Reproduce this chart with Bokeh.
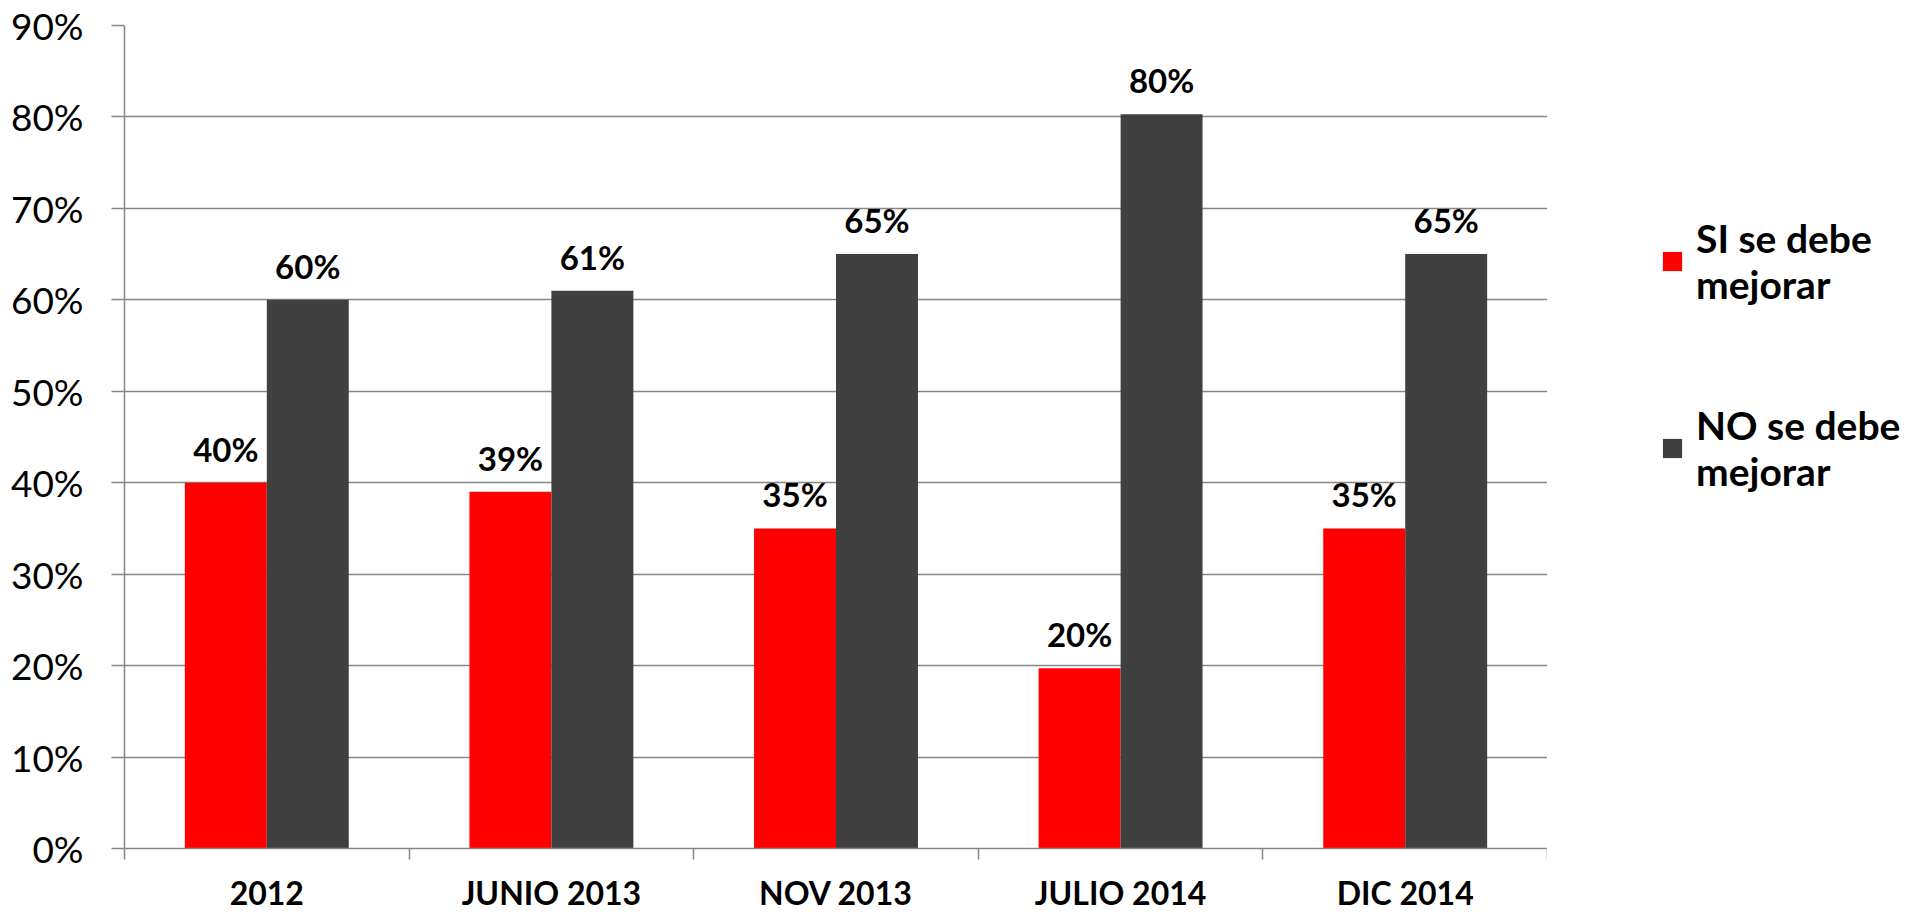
from bokeh.plotting import figure
from bokeh.layouts import row
from bokeh.models import (ColumnDataSource, FixedTicker, PrintfTickFormatter, Legend,
                          LegendItem, Range1d, CustomJSTickFormatter)
from bokeh.transform import dodge
from bokeh.core.properties import value
from bokeh.embed import file_html
from bokeh.resources import INLINE

categories = ["2012", "JUNIO 2013", "NOV 2013", "JULIO 2014", "DIC 2014"]
si_values = [40, 39, 35, 19.7, 35]
no_values = [60, 61, 65, 80.3, 65]
series_names = ["SI se debe\nmejorar", "NO se debe\nmejorar"]
y_ticks = [0, 10, 20, 30, 40, 50, 60, 70, 80, 90]

RED = "#FF0000"
DARK = "#404040"
GRAY = "#868686"
FONT = "Lato"

xs = [i + 0.5 for i in range(len(categories))]
src = ColumnDataSource(dict(
    x=xs,
    si=si_values,
    no=no_values,
    si_lbl=[f"{round(v)}%" for v in si_values],
    no_lbl=[f"{round(v)}%" for v in no_values],
))

p = figure(width=1547, height=914,
           x_range=Range1d(0, len(categories)), y_range=Range1d(0, 90),
           output_backend="svg", toolbar_location=None,
           min_border_left=124, min_border_right=0,
           min_border_top=25, min_border_bottom=64)
p.outline_line_color = None
p.background_fill_color = "white"
p.border_fill_color = "white"

bw = 0.288
p.vbar(x=dodge("x", -bw / 2), top="si", width=bw, source=src,
       fill_color=RED, line_color=None)
p.vbar(x=dodge("x", bw / 2), top="no", width=bw, source=src,
       fill_color=DARK, line_color=None)

for col, lbl, off in (("si", "si_lbl", -bw / 2), ("no", "no_lbl", bw / 2)):
    p.text(x=dodge("x", off), y=col, text=lbl, source=src,
           text_align="center", text_baseline="alphabetic", y_offset=-34,
           text_font=value(FONT), text_font_style="bold",
           text_font_size="33px", text_color="black")

# x axis
xa = p.xaxis[0]
xa.ticker = FixedTicker(ticks=xs, minor_ticks=list(range(len(categories) + 1)))
xa.formatter = CustomJSTickFormatter(args=dict(cats=categories),
                                     code="return cats[Math.floor(tick)];")
xa.major_tick_in = 0
xa.major_tick_out = 0
xa.minor_tick_in = 0
xa.minor_tick_out = 11
xa.minor_tick_line_color = GRAY
xa.minor_tick_line_width = 1.5
xa.axis_line_color = GRAY
xa.axis_line_width = 1.5
xa.major_label_text_font = FONT
xa.major_label_text_font_style = "bold"
xa.major_label_text_font_size = "32px"
xa.major_label_text_color = "black"
xa.major_label_standoff = 13

# y axis
ya = p.yaxis[0]
ya.ticker = FixedTicker(ticks=y_ticks)
ya.formatter = PrintfTickFormatter(format="%d%%")
ya.major_tick_in = 0
ya.major_tick_out = 13
ya.minor_tick_out = 0
ya.minor_tick_in = 0
ya.major_tick_line_color = GRAY
ya.major_tick_line_width = 1.5
ya.axis_line_color = GRAY
ya.axis_line_width = 1.5
ya.major_label_text_font = FONT
ya.major_label_text_font_size = "37px"
ya.major_label_text_color = "black"
ya.major_label_standoff = 28

p.xgrid.visible = False
p.ygrid.grid_line_color = GRAY
p.ygrid.grid_line_width = 1.5

# legend panel (separate figure to the right of the plot area)
pl = figure(width=374, height=914, x_range=Range1d(0, 1), y_range=Range1d(0, 1),
            output_backend="svg", toolbar_location=None, min_border=0)
pl.axis.visible = False
pl.grid.visible = False
pl.outline_line_color = None
pl.background_fill_color = "white"
pl.border_fill_color = "white"
# zero-height keys: they draw nothing in the panel, only feed the legend swatches
keys = ColumnDataSource(dict(x=[0], top=[0]))
k_si = pl.vbar(x="x", top="top", width=0, source=keys, fill_color=RED, line_color=None)
k_no = pl.vbar(x="x", top="top", width=0, source=keys, fill_color=DARK, line_color=None)

legend = Legend(items=[LegendItem(label=series_names[0], renderers=[k_si]),
                       LegendItem(label=series_names[1], renderers=[k_no])],
                location=(113, 354), orientation="vertical",
                padding=0, margin=0, spacing=95,
                glyph_width=24, glyph_height=24, label_standoff=12,
                label_text_font=FONT, label_text_font_style="bold",
                label_text_font_size="39px", label_text_line_height=1.38,
                label_text_color="black",
                border_line_color=None, background_fill_alpha=0)
pl.add_layout(legend)

layout = row(p, pl, spacing=0)
open("out.html", "w").write(file_html(layout, INLINE))
